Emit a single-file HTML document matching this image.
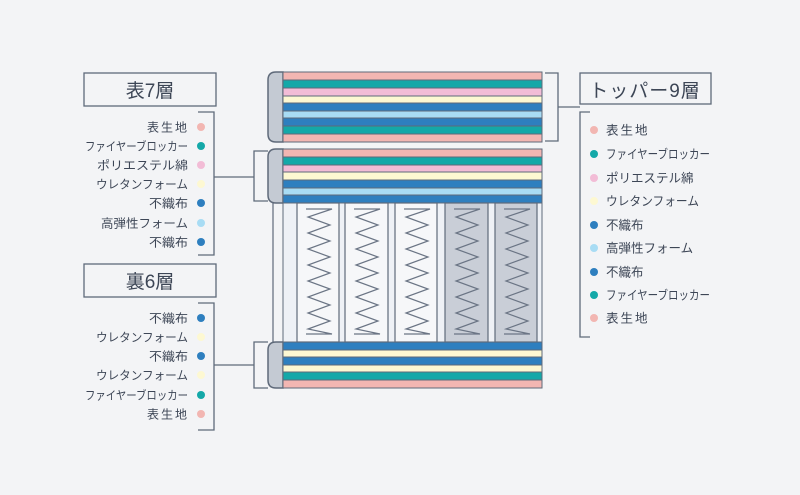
<!DOCTYPE html>
<html><head><meta charset="utf-8"><style>
html,body{margin:0;padding:0;background:#f3f4f6;}
svg{display:block}
text{font-family:"Liberation Sans","Noto Sans CJK JP",sans-serif;fill:#3d4656;}
</style></head><body>
<svg width="800" height="495" viewBox="0 0 800 495" xmlns="http://www.w3.org/2000/svg">
<defs>
<g id="sp"><polyline fill="none" stroke="#6b7585" stroke-width="1.2" points="8,0 34,0 10,8 32,16 10,24 32,32 10,40 32,48 10,56 32,64 10,72 32,80 10,88 32,96 10,104 32,112 10,120 34,125 8,125"/></g>
</defs>
<rect width="800" height="495" fill="#f3f4f6"/>
<g fill="#c4cad3" stroke="#5f6a7a" stroke-width="1.5">
<path d="M283,72 L276,72 Q268,72 268,80 L268,134 Q268,142 276,142 L283,142 Z"/>
<path d="M283,149 L276,149 Q268,149 268,157 L268,195 Q268,203 276,203 L283,203 Z"/>
<path d="M283,342 L276,342 Q268,342 268,350 L268,380 Q268,388 276,388 L283,388 Z"/>
</g>
<g stroke="#5f6a7a" stroke-width="1">
<rect x="283" y="72" width="259" height="8" fill="#f2b6b2"/>
<rect x="283" y="80" width="259" height="8" fill="#14a8a8"/>
<rect x="283" y="88" width="259" height="8" fill="#f2bcd6"/>
<rect x="283" y="96" width="259" height="7" fill="#fdf8d2"/>
<rect x="283" y="103" width="259" height="8" fill="#2e7fbf"/>
<rect x="283" y="111" width="259" height="7" fill="#a8dcf4"/>
<rect x="283" y="118" width="259" height="8" fill="#2e7fbf"/>
<rect x="283" y="126" width="259" height="8" fill="#14a8a8"/>
<rect x="283" y="134" width="259" height="8" fill="#f2b6b2"/>
<rect x="283" y="149" width="259" height="8" fill="#f2b6b2"/>
<rect x="283" y="157" width="259" height="8" fill="#14a8a8"/>
<rect x="283" y="165" width="259" height="7" fill="#f2bcd6"/>
<rect x="283" y="172" width="259" height="8" fill="#fdf8d2"/>
<rect x="283" y="180" width="259" height="8" fill="#2e7fbf"/>
<rect x="283" y="188" width="259" height="7" fill="#a8dcf4"/>
<rect x="283" y="195" width="259" height="8" fill="#2e7fbf"/>
<rect x="283" y="342" width="259" height="8" fill="#2e7fbf"/>
<rect x="283" y="350" width="259" height="7" fill="#fdf8d2"/>
<rect x="283" y="357" width="259" height="8" fill="#2e7fbf"/>
<rect x="283" y="365" width="259" height="7" fill="#fdf8d2"/>
<rect x="283" y="372" width="259" height="8" fill="#14a8a8"/>
<rect x="283" y="380" width="259" height="8" fill="#f2b6b2"/>
</g>
<rect x="283" y="203" width="259" height="139" fill="#eef1f6" stroke="#5f6a7a" stroke-width="1"/>
<line x1="273" y1="203" x2="273" y2="342" stroke="#5f6a7a" stroke-width="1.2"/>
<g stroke="#5f6a7a" stroke-width="1.2">
<rect x="297" y="203" width="42" height="139" fill="#f6f7f9"/>
<rect x="345" y="203" width="43" height="139" fill="#f6f7f9"/>
<rect x="395" y="203" width="42" height="139" fill="#f6f7f9"/>
<rect x="445" y="203" width="43" height="139" fill="#c9ced7"/>
<rect x="495" y="203" width="42" height="139" fill="#c9ced7"/>
</g>
<use href="#sp" x="298" y="209"/>
<use href="#sp" x="346" y="209"/>
<use href="#sp" x="396" y="209"/>
<use href="#sp" x="446" y="209"/>
<use href="#sp" x="496" y="209"/>
<g fill="none" stroke="#5f6a7a" stroke-width="1.3">
<polyline points="545,73 558,73 558,141 545,141"/>
<line x1="558" y1="107" x2="580" y2="107"/>
<polyline points="590,112 580,112 580,337 590,337"/>
<rect x="580" y="73" width="131" height="31"/>
<rect x="84" y="73" width="132" height="33"/>
<polyline points="198,112 214,112 214,255 198,255"/>
<line x1="214" y1="177" x2="254" y2="177"/>
<polyline points="268,151 254,151 254,201 268,201"/>
<rect x="84" y="264" width="132" height="33"/>
<polyline points="198,303 214,303 214,430 198,430"/>
<line x1="214" y1="365" x2="254" y2="365"/>
<polyline points="268,342 254,342 254,388 268,388"/>
</g>
<text x="645" y="97" font-size="19" text-anchor="middle" letter-spacing="1">トッパー9層</text>
<text x="150" y="97" font-size="19" text-anchor="middle">表7層</text>
<text x="150" y="288" font-size="19" text-anchor="middle">裏6層</text>
<g font-size="12.5">
<circle cx="594" cy="130" r="4" fill="#f2b6b2"/><text x="606" y="134.5" letter-spacing="2">表生地</text>
<circle cx="594" cy="154" r="4" fill="#14a8a8"/><text x="606" y="158.5" textLength="104" lengthAdjust="spacingAndGlyphs">ファイヤーブロッカー</text>
<circle cx="594" cy="178" r="4" fill="#f2bcd6"/><text x="606" y="182.5">ポリエステル綿</text>
<circle cx="594" cy="201" r="4" fill="#fdf8d2"/><text x="606" y="205.5" textLength="93" lengthAdjust="spacingAndGlyphs">ウレタンフォーム</text>
<circle cx="594" cy="225" r="4" fill="#2e7fbf"/><text x="606" y="229.5">不織布</text>
<circle cx="594" cy="248" r="4" fill="#a8dcf4"/><text x="606" y="252.5">高弾性フォーム</text>
<circle cx="594" cy="272" r="4" fill="#2e7fbf"/><text x="606" y="276.5">不織布</text>
<circle cx="594" cy="295" r="4" fill="#14a8a8"/><text x="606" y="299.5" textLength="104" lengthAdjust="spacingAndGlyphs">ファイヤーブロッカー</text>
<circle cx="594" cy="318" r="4" fill="#f2b6b2"/><text x="606" y="322.5" letter-spacing="2">表生地</text>
</g>
<g font-size="12">
<circle cx="201" cy="127" r="4" fill="#f2b6b2"/><text x="147" y="131.5" letter-spacing="2">表生地</text>
<circle cx="201" cy="146" r="4" fill="#14a8a8"/><text x="85" y="150.5" textLength="103" lengthAdjust="spacingAndGlyphs">ファイヤーブロッカー</text>
<circle cx="201" cy="165" r="4" fill="#f2bcd6"/><text x="97" y="169.5" textLength="91" lengthAdjust="spacingAndGlyphs">ポリエステル綿</text>
<circle cx="201" cy="184" r="4" fill="#fdf8d2"/><text x="96" y="188.5" textLength="92" lengthAdjust="spacingAndGlyphs">ウレタンフォーム</text>
<circle cx="201" cy="203" r="4" fill="#2e7fbf"/><text x="149" y="207.5" textLength="39" lengthAdjust="spacingAndGlyphs">不織布</text>
<circle cx="201" cy="223" r="4" fill="#a8dcf4"/><text x="101" y="227.5" textLength="87" lengthAdjust="spacingAndGlyphs">高弾性フォーム</text>
<circle cx="201" cy="242" r="4" fill="#2e7fbf"/><text x="149" y="246.5" textLength="39" lengthAdjust="spacingAndGlyphs">不織布</text>
<circle cx="201" cy="318" r="4" fill="#2e7fbf"/><text x="149" y="322.5" textLength="39" lengthAdjust="spacingAndGlyphs">不織布</text>
<circle cx="201" cy="337" r="4" fill="#fdf8d2"/><text x="96" y="341.5" textLength="92" lengthAdjust="spacingAndGlyphs">ウレタンフォーム</text>
<circle cx="201" cy="356" r="4" fill="#2e7fbf"/><text x="149" y="360.5" textLength="39" lengthAdjust="spacingAndGlyphs">不織布</text>
<circle cx="201" cy="375" r="4" fill="#fdf8d2"/><text x="96" y="379.5" textLength="92" lengthAdjust="spacingAndGlyphs">ウレタンフォーム</text>
<circle cx="201" cy="395" r="4" fill="#14a8a8"/><text x="85" y="399.5" textLength="103" lengthAdjust="spacingAndGlyphs">ファイヤーブロッカー</text>
<circle cx="201" cy="414" r="4" fill="#f2b6b2"/><text x="147" y="418.5" letter-spacing="2">表生地</text>
</g>
</svg>
</body></html>
